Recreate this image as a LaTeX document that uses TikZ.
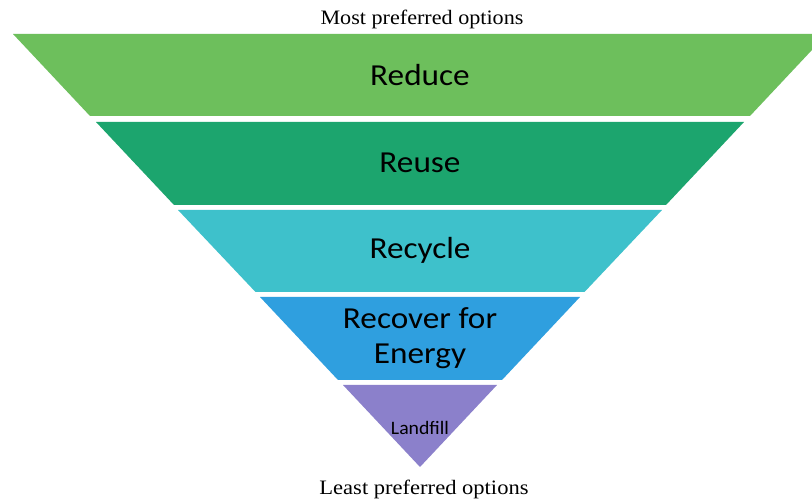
\documentclass[tikz,border=0pt]{standalone}
\usepackage{fontspec}
\setmainfont{Liberation Serif}
\newfontfamily\bandfont{Carlito}
\definecolor{cReduce}{HTML}{6DBF5C}
\definecolor{cReuse}{HTML}{1CA56E}
\definecolor{cRecycle}{HTML}{3EC1CB}
\definecolor{cRecover}{HTML}{2F9FDF}
\definecolor{cLandfill}{HTML}{8B80CB}
\tikzset{
  bandlabel/.style={inner sep=0pt, text=black, font=\bandfont\fontsize{30.5}{35}\selectfont, align=center},
  smalllabel/.style={inner sep=0pt, text=black, font=\bandfont\fontsize{19}{22}\selectfont},
  caption/.style={inner sep=0pt, text=black, font=\fontsize{20.5}{24}\selectfont}
}
\newcommand{\hs}[1]{\scalebox{1.09}[1]{#1}}
\begin{document}
\begin{tikzpicture}[x=1pt,y=1pt]
\useasboundingbox (0,0) rectangle (812,500);
\fill[white] (0,0) rectangle (812,500);
\begin{scope}
\clip (0,0) rectangle (812,500);
% bands (y measured from top: y' = 500 - y)
\fill[cReduce]   (13,466) -- (827,466) -- (750,384) -- (90,384) -- cycle;
\fill[cReuse]    (96,378) -- (744,378) -- (666,295) -- (174,295) -- cycle;
\fill[cRecycle]  (178,290) -- (662,290) -- (584.5,208) -- (255.5,208) -- cycle;
\fill[cRecover]  (260,203) -- (580,203) -- (502,120) -- (338,120) -- cycle;
\fill[cLandfill] (343,115) -- (497,115) -- (420,33) -- cycle;
\end{scope}
\node[bandlabel] (reduce) at (420,425) {\hs{Reduce}};
\node[bandlabel] (reuse) at (420,337) {\hs{Reuse}};
\node[bandlabel] (recycle) at (420,250) {\hs{Recycle}};
\node[bandlabel] (recover) at (420,162) {\hs{Recover for}\\\hs{Energy}};
\node[smalllabel] (landfill) at (420,72) {\scalebox{1.04}[1]{Landfill}};
\node[caption] (most) at (422,481) {\scalebox{1.08}[1]{Most preferred options}};
\node[caption] (least) at (424,11) {\scalebox{1.1}[1]{Least preferred options}};
\end{tikzpicture}
\end{document}
